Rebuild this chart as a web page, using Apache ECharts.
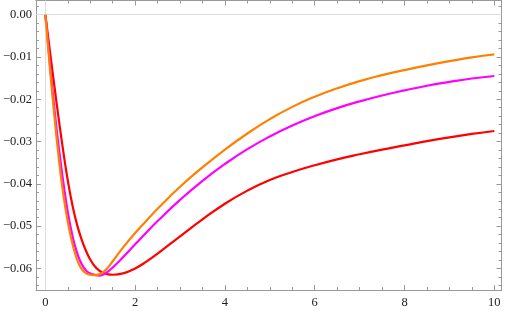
<!DOCTYPE html>
<html>
<head>
<meta charset="utf-8">
<script src="https://cdn.jsdelivr.net/npm/echarts@6/dist/echarts.min.js"></script>
<style>
html,body{margin:0;padding:0;background:#fff;}
#chart{width:506px;height:311px;}
</style>
</head>
<body>
<div id="chart"></div>
<script>
// ---- data ----
const xs = [0,0.1,0.2,0.3,0.4,0.5,0.6,0.7,0.8,0.9,1.0,1.1,1.2,1.3,1.4,1.5,1.75,2,2.25,2.5,3,3.5,4,4.5,5,5.5,6,6.5,7,7.5,8,8.5,9,9.5,10];
const orangeVals = [0,-0.0125,-0.0238,-0.0340,-0.0425,-0.0490,-0.0540,-0.0577,-0.0600,-0.0611,-0.0615,-0.0616,-0.0614,-0.0608,-0.0597,-0.0583,-0.0548,-0.0516,-0.0487,-0.0459,-0.0407,-0.0361,-0.0319,-0.0281,-0.0247,-0.0218,-0.0194,-0.0174,-0.0157,-0.0143,-0.0131,-0.0120,-0.0110,-0.0101,-0.0094];
const magentaVals = [0,-0.0115,-0.0221,-0.0315,-0.0396,-0.0467,-0.0521,-0.0561,-0.0588,-0.0604,-0.0612,-0.0615,-0.0617,-0.0614,-0.0607,-0.0598,-0.0571,-0.0543,-0.0515,-0.0488,-0.0438,-0.0393,-0.0353,-0.0318,-0.0288,-0.0262,-0.0240,-0.0221,-0.0205,-0.0191,-0.0179,-0.0168,-0.0159,-0.0151,-0.0145];
const redVals = [0,-0.0085,-0.0168,-0.0248,-0.0324,-0.0392,-0.0449,-0.0494,-0.0529,-0.0557,-0.0579,-0.0595,-0.0605,-0.0611,-0.0614,-0.0615,-0.0611,-0.0600,-0.0584,-0.0565,-0.0524,-0.0484,-0.0447,-0.0416,-0.0391,-0.0372,-0.0356,-0.0342,-0.0330,-0.0319,-0.0309,-0.0299,-0.0290,-0.0282,-0.0275];

const xMajorTicks = [0,2,4,6,8,10];
const xMinorTicks = [0.5,1,1.5,2.5,3,3.5,4.5,5,5.5,6.5,7,7.5,8.5,9,9.5];
const yMajorTicks = [0,-0.01,-0.02,-0.03,-0.04,-0.05,-0.06];
const yMinorTicks = [0.002,-0.002,-0.004,-0.006,-0.008,-0.012,-0.014,-0.016,-0.018,-0.022,-0.024,-0.026,-0.028,-0.032,-0.034,-0.036,-0.038,-0.042,-0.044,-0.046,-0.048,-0.052,-0.054,-0.056,-0.058,-0.062,-0.064];

const X_MIN = -0.21, X_MAX = 10.16;
const Y_MIN = -0.0651, Y_MAX = 0.00335;

const frameColor = '#999999';
const labelFont = {fontFamily: '"Liberation Serif", "Times New Roman", serif', fontSize: 12.5, color: '#222'};

function zip(a, b){ return a.map((v,i)=>[v,b[i]]); }

function fmtY(v){
  if (Math.abs(v) < 1e-9) return '0.00';
  const s = Math.abs(v).toFixed(2);
  return (v < 0 ? '\u2212' : '') + s;
}

function xAxisDef(pos, ticks, len, showLine, showLabel){
  return {
    type:'value', position: pos, min: X_MIN, max: X_MAX,
    axisLine:{show: showLine, onZero:false, lineStyle:{color: frameColor, width:1}},
    axisTick:{show:true, inside:true, length: len, customValues: ticks, lineStyle:{color: frameColor, width:1}},
    axisLabel: showLabel ? Object.assign({show:true, customValues: ticks, margin:6, formatter: v => String(Math.round(v))}, labelFont) : {show:false},
    splitLine:{show:false}
  };
}
function yAxisDef(pos, ticks, len, showLine, showLabel){
  return {
    type:'value', position: pos, min: Y_MIN, max: Y_MAX,
    axisLine:{show: showLine, onZero:false, lineStyle:{color: frameColor, width:1}},
    axisTick:{show:true, inside:true, length: len, customValues: ticks, lineStyle:{color: frameColor, width:1}},
    axisLabel: showLabel ? Object.assign({show:true, customValues: ticks, margin:4, formatter: fmtY}, labelFont) : {show:false},
    splitLine:{show:false}
  };
}

const SMOOTH = 0.5;
const chart = echarts.init(document.getElementById('chart'), null, {renderer:'canvas'});
chart.setOption({
  animation:false,
  backgroundColor:'#fff',
  grid:{left:33, right:4.5, top:0.5, bottom:21, containLabel:false},
  xAxis:[
    xAxisDef('bottom', xMajorTicks, 5, true, true),
    xAxisDef('bottom', xMinorTicks, 3, false, false),
    xAxisDef('top', xMajorTicks, 5, true, false),
    xAxisDef('top', xMinorTicks, 3, false, false)
  ],
  yAxis:[
    yAxisDef('left', yMajorTicks, 5, true, true),
    yAxisDef('left', yMinorTicks, 3, false, false),
    yAxisDef('right', yMajorTicks, 5, true, false),
    yAxisDef('right', yMinorTicks, 3, false, false)
  ],
  series:[
    {type:'line', data: zip(xs, redVals), showSymbol:false, smooth:SMOOTH,
     lineStyle:{color:'#ff0000', width:2.2}, z:3,
     markLine:{silent:true, symbol:'none', label:{show:false}, animation:false,
       lineStyle:{color:'#dcdcdc', width:1, type:'solid'},
       data:[{xAxis:0},{yAxis:0}]}},
    {type:'line', data: zip(xs, magentaVals), showSymbol:false, smooth:SMOOTH,
     lineStyle:{color:'#ff00ff', width:2.2}, z:4},
    {type:'line', data: zip(xs, orangeVals), showSymbol:false, smooth:SMOOTH,
     lineStyle:{color:'#ff8000', width:2.2}, z:5}
  ]
});
</script>
</body>
</html>
